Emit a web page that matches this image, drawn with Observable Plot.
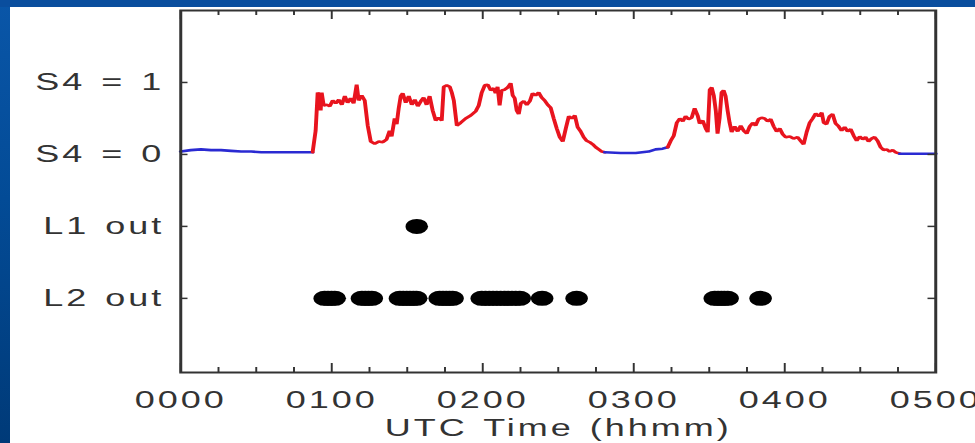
<!DOCTYPE html>
<html>
<head>
<meta charset="utf-8">
<script src="https://cdn.jsdelivr.net/npm/d3@7"></script>
<script src="https://cdn.jsdelivr.net/npm/@observablehq/plot@0.6"></script>
<style>
  html, body { margin: 0; padding: 0; width: 975px; height: 443px; overflow: hidden; }
  body { position: relative; background: linear-gradient(to bottom, #0a56a8 0%, #034b96 45%, #003a78 100%); }
  #topband { position: absolute; left: 0; top: 0; width: 975px; height: 7px; background: #0a4e9e; }
  #panel { position: absolute; left: 10px; top: 7px; right: 0; bottom: 0; background: #ffffff; }
  #chart { position: absolute; left: 0; top: 0; width: 975px; height: 443px; }
  #chart svg text { letter-spacing: 2px; word-spacing: 2px; }
</style>
</head>
<body>
<div id="topband"></div>
<div id="panel"></div>
<div id="chart"></div>
<script>
// ---- Data (minutes after 0000 UTC) ----
const s4Time = [
  0, 4, 8, 12, 16, 20, 24, 28, 32, 40, 48, 52.4,
  53.6, 54.4, 55.2, 55.6, 56, 56.8, 58, 59.2, 60.4, 61.6, 62.8, 64, 65.2, 66.3, 67.5, 68.7, 69.9, 70.7,
  71.9, 73.1, 74.3, 75.5, 77.1, 78.7, 80.3, 81.8, 83, 83.8, 85, 85.8, 86.6, 87.4, 88.2, 89.4, 90.6,
  91.8, 93, 94.2, 95.4, 96.5, 97.7, 98.9, 100.1, 101.3, 102.5, 103.7, 104.5, 105.7, 106.9, 107.7,
  108.5, 109.7, 111.2, 113.2, 115.2, 117.2, 118.4, 119.6, 120.8, 122, 123.2, 124.4, 125.1, 125.9,
  126.7, 127.5, 128.7, 129.9, 131.1, 131.9, 132.7, 133.5, 134.3, 135.1, 136.3, 137.5, 138.7, 139.8,
  141, 142.2, 143.4, 144.6, 145.8, 147, 148.2, 149.4, 150.6, 151.8, 153, 154.2, 155.4, 156.6, 157.7,
  158.9, 160.1, 161.3, 162.5, 163.7, 164.9, 166.1, 167.3, 168.5,
  174.8, 180.8, 185.9, 188.7, 191.5, 193.5,
  194.7, 195.9, 197.1, 198.3, 199.5, 200.6, 201.8, 203, 204.2, 205.4, 206.2, 207.4, 208.6, 209.4,
  210.2, 211, 211.8, 212.6, 213.3, 214.1, 214.9, 215.7, 216.5, 217.3, 218.1, 218.9, 220.1, 221.3,
  222.5, 223.7, 224.9, 226.1, 227.3, 228.4, 229.6, 230.8, 232, 233.2, 234.4, 235.6, 236.8, 238,
  239.2, 240.4, 242, 243.5, 245.1, 246.3, 247.5, 248.7, 249.9, 251.1, 252.3, 253.5, 254.7, 255.5,
  256.6, 257.8, 259, 260.2, 261.4, 262.6, 263.8, 265, 266.2, 267.4, 268.6, 269.8, 271, 272.1, 273.3,
  274.5, 275.7, 276.9, 278.1, 279.3, 280.5, 281.7, 282.9, 284.1, 285.7,
  300
];
const s4Value = [
  0.04, 0.06, 0.07, 0.06, 0.06, 0.05, 0.04, 0.04, 0.03, 0.03, 0.03, 0.03,
  0.33, 0.86, 0.82, 0.61, 0.86, 0.68, 0.69, 0.67, 0.75, 0.71, 0.76, 0.69, 0.81, 0.72, 0.78, 0.71, 0.97, 0.75,
  0.82, 0.75, 0.40, 0.18, 0.15, 0.18, 0.17, 0.21, 0.33, 0.25, 0.50, 0.42, 0.64, 0.81, 0.85, 0.72, 0.81,
  0.69, 0.76, 0.67, 0.74, 0.79, 0.69, 0.81, 0.61, 0.47, 0.51, 0.47, 0.94, 0.96, 0.94, 0.86,
  0.75, 0.40, 0.44, 0.50, 0.54, 0.60, 0.68, 0.86, 0.96, 0.97, 0.89, 0.92, 0.85, 0.94,
  0.68, 0.89, 0.90, 0.93, 0.99, 0.82, 0.78, 0.61, 0.56, 0.71, 0.74, 0.69, 0.74, 0.85,
  0.82, 0.86, 0.79, 0.75, 0.69, 0.65, 0.50, 0.36, 0.24, 0.18, 0.36, 0.53, 0.50, 0.54, 0.38,
  0.32, 0.24, 0.19, 0.17, 0.14, 0.10, 0.07, 0.04, 0.03,
  0.02, 0.02, 0.04, 0.07, 0.08, 0.10,
  0.19, 0.26, 0.44, 0.50, 0.46, 0.53, 0.49, 0.51, 0.64, 0.54, 0.43, 0.47, 0.36, 0.31,
  0.90, 0.93, 0.82, 0.61, 0.29, 0.50, 0.86, 0.89, 0.81, 0.61, 0.44, 0.31, 0.39, 0.32,
  0.40, 0.33, 0.29, 0.39, 0.44, 0.40, 0.49, 0.51, 0.50, 0.46, 0.49, 0.39, 0.32, 0.36,
  0.28, 0.24, 0.25, 0.22, 0.24, 0.19, 0.14, 0.31, 0.44, 0.50, 0.57, 0.53, 0.58, 0.44,
  0.42, 0.53, 0.56, 0.43, 0.39, 0.33, 0.38, 0.32, 0.35, 0.26, 0.19, 0.25, 0.21, 0.24, 0.18,
  0.22, 0.24, 0.19, 0.10, 0.06, 0.07, 0.04, 0.06, 0.03, 0.01,
  0.01
];
// periods of scintillation (drawn red)
const activeStart = [52.4, 193.5];
const activeEnd = [168.5, 285.7];

const l1OutTime = [93.8];
const l2OutTime = [
  57.2, 58.5, 59.9, 61.2,
  72, 73.3, 74.6, 75.9,
  87.1, 88.4, 89.8, 91.1, 92.4, 93.6,
  102.9, 104.2, 105.5, 106.8, 108,
  119.6, 121.1, 122.6, 124.1, 125.6, 127.1, 128.6, 130.1, 131.6, 133.1, 134.7,
  143.6, 157.3,
  212.2, 213.5, 214.8, 216, 217.3,
  230.4
];

const xTickValues = [0, 60, 120, 180, 240, 300];
const xTickLabels = ["0000", "0100", "0200", "0300", "0400", "0500"];
const xMinorTickValues = [15, 30, 45, 75, 90, 105, 135, 150, 165, 195, 210, 225, 255, 270, 285];
const yTickValues = [1, 0, -1, -2];
const yTickLabels = ["S4 = 1", "S4 = 0", "L1 out", "L2 out"];
const l1Row = -1, l2Row = -2;

// ---- build line runs (red when scintillating, blue otherwise) ----
const lineRows = [];
let run = -1, prevState = null;
for (let i = 0; i < s4Time.length - 1; i++) {
  const mid = (s4Time[i] + s4Time[i + 1]) / 2;
  const active = activeStart.some((s, k) => mid > s && mid < activeEnd[k]);
  if (active !== prevState) {
    run++;
    lineRows.push({t: s4Time[i], v: s4Value[i], run, color: active ? "#e8141e" : "#2a2ad2"});
    prevState = active;
  }
  lineRows.push({t: s4Time[i + 1], v: s4Value[i + 1], run, color: active ? "#e8141e" : "#2a2ad2"});
}
const dotRows = [
  ...l1OutTime.map(t => ({t, row: l1Row})),
  ...l2OutTime.map(t => ({t, row: l2Row}))
];

// ---- layout (drawn at 2/3 width then stretched 1.5x like the reference) ----
const W = 650, H = 443;
const mL = 120, mR = 26.67, mT = 10, mB = 71;
const innerH = H - mT - mB;
const innerW = W - mL - mR;
const ink = "#333";

const chart = Plot.plot({
  width: W, height: H,
  marginLeft: mL, marginRight: mR, marginTop: mT, marginBottom: mB,
  style: {fontFamily: "'Liberation Sans', Arial, sans-serif", fontSize: "24px", background: "transparent", color: ink},
  x: {domain: [0, 300]},
  y: {domain: [-3.03, 2.0]},
  marks: [
    Plot.line(lineRows, {x: "t", y: "v", z: "run", stroke: "color", strokeWidth: 2.6, strokeLinejoin: "miter"}),
    Plot.dot(dotRows, {x: "t", y: "row", r: 7.5, fill: "#000", stroke: "none"}),
    // inward ticks, bottom and top
    Plot.ruleX(xMinorTickValues, {x: d => d, insetTop: innerH - 5, stroke: ink, strokeWidth: 1.3}),
    Plot.ruleX(xTickValues, {x: d => d, insetTop: innerH - 9, stroke: ink, strokeWidth: 1.3}),
    Plot.ruleX(xMinorTickValues, {x: d => d, insetBottom: innerH - 5, stroke: ink, strokeWidth: 1.3}),
    Plot.ruleX(xTickValues, {x: d => d, insetBottom: innerH - 9, stroke: ink, strokeWidth: 1.3}),
    // inward ticks, left and right
    Plot.ruleY(yTickValues, {y: d => d, insetRight: innerW - 5, stroke: ink, strokeWidth: 1.5}),
    Plot.ruleY(yTickValues, {y: d => d, insetLeft: innerW - 5, stroke: ink, strokeWidth: 1.5}),
    Plot.frame({stroke: ink, strokeWidth: 2}),
    Plot.axisX(xTickValues, {
      tickFormat: d => xTickLabels[xTickValues.indexOf(d)],
      tickSize: 0, tickPadding: 18, fontSize: 24,
      label: "UTC Time (hhmm)", labelAnchor: "center", labelArrow: "none", labelOffset: 63
    }),
    Plot.axisY(yTickValues, {
      tickFormat: d => yTickLabels[yTickValues.indexOf(d)],
      tickSize: 0, tickPadding: 11, fontSize: 24, label: null
    })
  ]
});
chart.setAttribute("viewBox", `0 0 ${W} ${H}`);
chart.setAttribute("preserveAspectRatio", "none");
chart.style.width = "975px";
chart.style.height = "443px";
chart.style.maxWidth = "none";
chart.style.background = "transparent";
document.getElementById("chart").appendChild(chart);
</script>
</body>
</html>
